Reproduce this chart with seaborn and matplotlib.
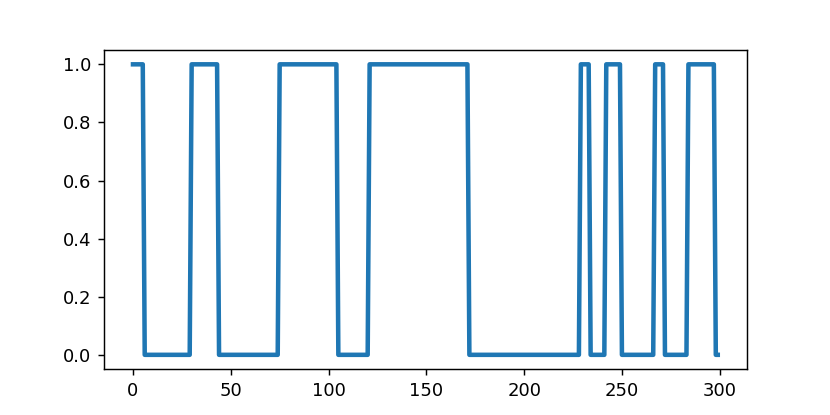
import numpy as np
import pandas as pd
import seaborn as sns
import matplotlib
matplotlib.use("Agg")
import matplotlib.pyplot as plt

# signal as runs of constant level
run_levels = [1, 0, 1, 0, 1, 0, 1, 0, 1, 0, 1, 0, 1, 0, 1, 0]
run_lengths = [6, 24, 14, 31, 30, 16, 51, 57, 5, 8, 8, 17, 5, 12, 14, 2]

signal = np.repeat(run_levels, run_lengths).astype(float)
df = pd.DataFrame({"t": np.arange(len(signal)), "value": signal})

fig, ax = plt.subplots(figsize=(830 / 130, 415 / 130), dpi=130)
sns.lineplot(data=df, x="t", y="value", ax=ax, color="#1f77b4", linewidth=2.5)
ax.set_xlabel("")
ax.set_ylabel("")
fig.savefig("out.png", dpi=130)
